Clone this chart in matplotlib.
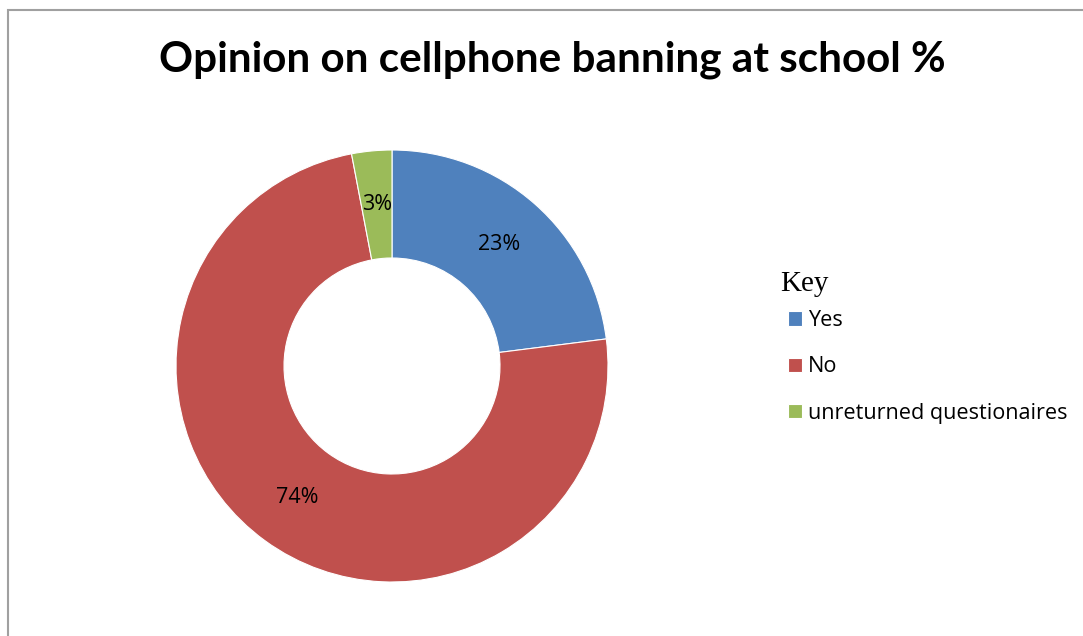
import matplotlib
matplotlib.use("Agg")
import matplotlib.pyplot as plt
from matplotlib.patches import Rectangle

labels = ["Yes", "No", "unreturned questionaires"]
values = [23, 74, 3]
colors = ["#4F81BD", "#C0504D", "#9BBB59"]

W, H = 1083, 636
fig = plt.figure(figsize=(W / 100, H / 100), dpi=100)

# outer frame (left and top edges visible, the rest runs off the image)
fig.patches.append(Rectangle((8 / W, -0.05), 1.1, (H - 10) / H + 0.05,
                             transform=fig.transFigure, fill=False,
                             edgecolor="#a0a0a0", linewidth=1.5))

fig.text(552 / W, 1 - 60 / H, "Opinion on cellphone banning at school %",
         ha="center", va="center", fontsize=30.4, fontweight="bold",
         family="Lato")

# donut, centre (392, 366) px, outer radius 216 px
r = 216
ax = fig.add_axes([(392 - r) / W, (H - 366 - r) / H, 2 * r / W, 2 * r / H])
wedges, _, autotexts = ax.pie(values, colors=colors, startangle=90,
                              counterclock=False, radius=1,
                              autopct="%d%%", pctdistance=0.75,
                              wedgeprops=dict(width=0.5, edgecolor="white",
                                              linewidth=0.8),
                              textprops=dict(fontsize=15.5, family="Open Sans"))
ax.set_xlim(-1, 1)
ax.set_ylim(-1, 1)
ax.set_aspect("equal")
ax.axis("off")

# legend title sits a bit left of the entries, so it is its own text
fig.text(780 / W, 1 - 291 / H, "Key", ha="left", va="baseline",
         fontsize=21, family="Liberation Serif")
leg = fig.legend(wedges, labels, loc="center left",
                 bbox_to_anchor=(788 / W, 1 - 367 / H),
                 frameon=False,
                 prop=dict(family="Open Sans", size=15.6),
                 handlelength=0.66, handleheight=0.66, handletextpad=0.28,
                 labelspacing=1.16, borderpad=0, borderaxespad=0)

fig.savefig("out.png", dpi=100)
